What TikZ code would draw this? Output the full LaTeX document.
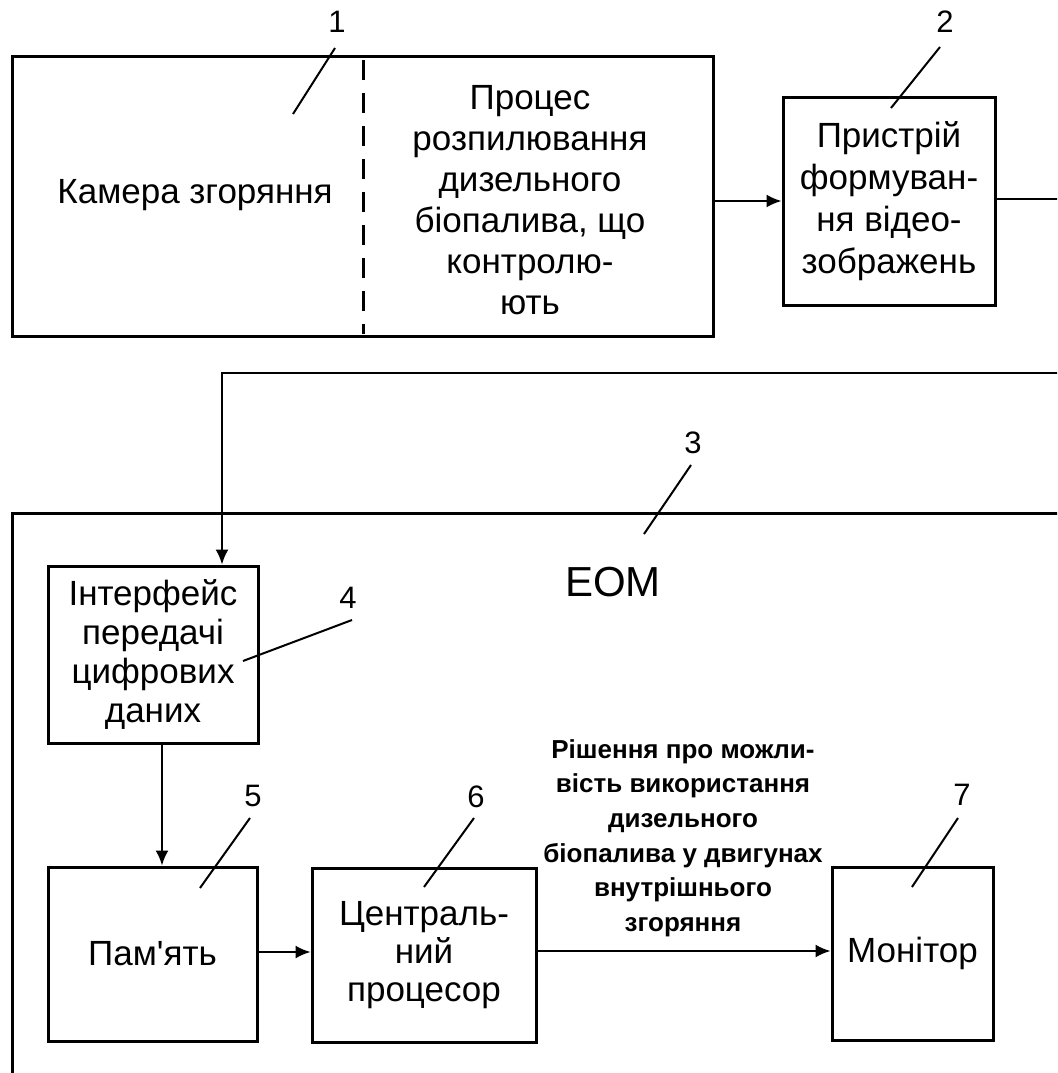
\documentclass[tikz,border=0pt]{standalone}
\usepackage{fontspec}
\setmainfont{Liberation Sans}[Ligatures=TeXOff]
\usetikzlibrary{arrows.meta}

\tikzset{
	blok/.style={draw=black, line width=3pt, rectangle, align=center, inner sep=0pt,
		font=\fontsize{35}{41}\selectfont},
	nomer/.style={font=\fontsize{31}{34}\selectfont, inner sep=3pt},
	vynoska/.style={line width=2pt},
	zvjazok/.style={line width=2pt, -{Latex[length=15pt,width=13pt]}},
	lin/.style={line width=2pt}
}

\begin{document}
\begin{tikzpicture}[x=1pt,y=-1pt]
				\useasboundingbox (0,0) rectangle (1057,1073);
				\clip (0,0) rectangle (1057,1073);
				% blok 1 -- kamera
				\node [blok, minimum width=701pt, minimum height=279pt] (kam) at (362.5,196.5) {};
				\draw [line width=3pt, dash pattern=on 20pt off 13pt] (363,60) -- (363,334);
				\node [font=\fontsize{35}{41}\selectfont] (kamt) at (195,195) {Камера згоряння};
				\node [font=\fontsize{35}{41}\selectfont, align=center] (proc) at (530,200) {Процес\\розпилювання\\дизельного\\біопалива, що\\контролю-\\ють};
				% blok 2
				\node [blok, minimum width=212pt, minimum height=208pt, font=\fontsize{35}{42}\selectfont] (vid) at (889,201) {Пристрій\\формуван-\\ня відео-\\зображень};
				% EOM
				\draw [line width=3pt] (12,513) rectangle (1080,1100);
				\node [font=\fontsize{42}{46}\selectfont] (eom) at (613,582) {EOM};
				\node [blok, minimum width=210pt, minimum height=177pt, font=\fontsize{35}{39}\selectfont] (intf) at (153,654.5) {Інтерфейс\\передачі\\цифрових\\даних};
				\node [blok, minimum width=209pt, minimum height=174pt] (pam) at (152.5,954) {Пам'ять};
				\node [blok, minimum width=224pt, minimum height=174pt, font=\fontsize{35}{38}\selectfont] (cpu) at (424,955) {Централь-\\ний\\процесор};
				\node [blok, minimum width=161pt, minimum height=173pt] (mon) at (912.5,953.5) {Монітор};
				\node [align=center, font=\fontsize{26}{34.6}\selectfont\bfseries] (rish) at (683,838) {Рішення про можли-\\вість використання\\дизельного\\біопалива у двигунах\\внутрішнього\\згоряння};
				% zv'jazky
				\coordinate (vyh) at (1075,199);
				\coordinate (zvor) at (222,373);
				\draw [zvjazok] (kam.east |- vid.west) -- (vid.west);
				\draw [zvjazok] (vid.east |- vyh) -- (vyh) |- (zvor) -- (zvor |- intf.north);
				\draw [zvjazok] (intf.south -| 162,0) -- (pam.north -| 162,0);
				\draw [zvjazok] (pam.east |- 0,952) -- (cpu.west |- 0,952);
				\draw [zvjazok] (cpu.east |- 0,951) -- (mon.west |- 0,951);
				% vynosky
				\node [nomer] (n1) at (337,22) {1};
				\node [nomer] (n2) at (945,22) {2};
				\node [nomer] (n3) at (693,443) {3};
				\node [nomer] (n4) at (348,598) {4};
				\node [nomer] (n5) at (253,796) {5};
				\node [nomer] (n6) at (476,797) {6};
				\node [nomer] (n7) at (962,795) {7};
				\coordinate (k1) at (293,114);
				\coordinate (k2) at (891,108);
				\coordinate (k3) at (644,534);
				\coordinate (k4) at (243,661);
				\coordinate (k5) at (200,888);
				\coordinate (k6) at (424,887);
				\coordinate (k7) at (912,887);
				\draw [vynoska] (335,48) -- (k1);
				\draw [vynoska] (940,47) -- (k2);
				\draw [vynoska] (691,465) -- (k3);
				\draw [vynoska] (352,620) -- (k4);
				\draw [vynoska] (250,818) -- (k5);
				\draw [vynoska] (474,818) -- (k6);
				\draw [vynoska] (958,818) -- (k7);
			\end{tikzpicture}
\end{document}
